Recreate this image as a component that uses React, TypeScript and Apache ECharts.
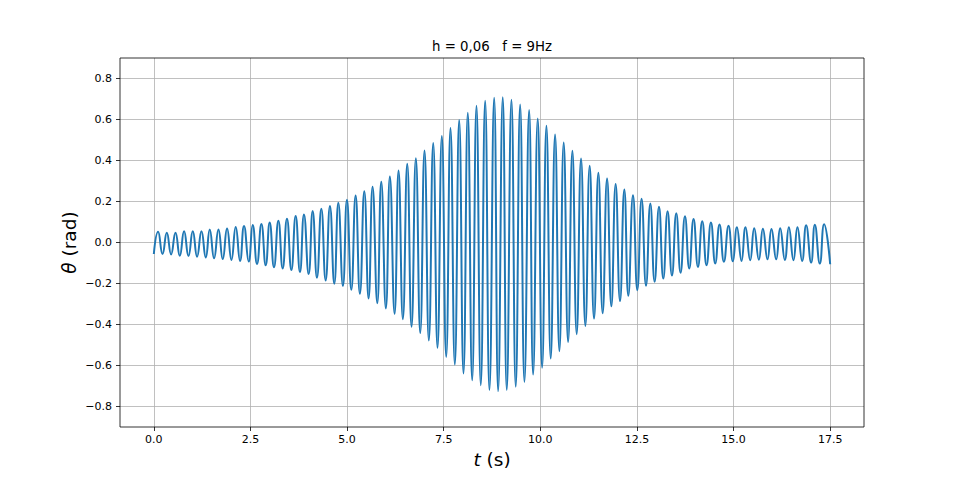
import { useEffect, useRef } from 'react';
import * as echarts from 'echarts';

// Axis limits and tick labels
const xMin = -0.875;
const xMax = 18.375;
const yMin = -0.9;
const yMax = 0.9;
const xTicks = [0, 2.5, 5, 7.5, 10, 12.5, 15, 17.5];
const yTicks = [-0.8, -0.6, -0.4, -0.2, 0, 0.2, 0.4, 0.6, 0.8];

const titleText = 'h = 0,06   f = 9Hz';

// Start / end of the recorded signal
const startTime = 0;
const startValue = -0.056;
const endTime = 17.5;
const endValue = -0.106;

// Maxima of each oscillation (time in s, angle in rad)
const peakTimes = [
  0.111, 0.336, 0.561, 0.783, 1.008, 1.233, 1.447, 1.672, 1.895, 2.119, 2.334,
  2.559, 2.784, 2.998, 3.223, 3.445, 3.67, 3.885, 4.11, 4.334, 4.557, 4.774,
  4.996, 5.221, 5.446, 5.66, 5.885, 6.108, 6.332, 6.557, 6.78, 7.004, 7.229,
  7.452, 7.676, 7.901, 8.124, 8.348, 8.573, 8.806, 9.028, 9.253, 9.478, 9.711,
  9.933, 10.158, 10.382, 10.605, 10.83, 11.054, 11.277, 11.502, 11.727, 11.949, 12.174,
  12.398, 12.621, 12.846, 13.071, 13.293, 13.518, 13.743, 13.965, 14.19, 14.415, 14.637,
  14.87, 15.087, 15.309, 15.534, 15.759, 15.981, 16.206, 16.431, 16.653, 16.878, 17.103, 17.343,
];
const peakValues = [
  0.052, 0.048, 0.048, 0.055, 0.055, 0.055, 0.063, 0.063, 0.068, 0.076, 0.081,
  0.085, 0.09, 0.098, 0.106, 0.116, 0.129, 0.137, 0.154, 0.165, 0.178, 0.194,
  0.208, 0.229, 0.25, 0.272, 0.296, 0.322, 0.351, 0.384, 0.411, 0.449, 0.485,
  0.52, 0.559, 0.597, 0.633, 0.667, 0.691, 0.706, 0.709, 0.696, 0.673, 0.646,
  0.605, 0.569, 0.527, 0.488, 0.447, 0.41, 0.374, 0.34, 0.312, 0.285, 0.259,
  0.231, 0.213, 0.19, 0.174, 0.153, 0.143, 0.128, 0.115, 0.104, 0.098, 0.088,
  0.082, 0.074, 0.074, 0.069, 0.067, 0.066, 0.069, 0.075, 0.074, 0.084, 0.087, 0.089,
];

// Minima of each oscillation
const troughTimes = [
  0.225, 0.447, 0.672, 0.897, 1.119, 1.344, 1.559, 1.783, 2.008, 2.231, 2.455,
  2.67, 2.895, 3.109, 3.334, 3.559, 3.781, 4.006, 4.221, 4.446, 4.67, 4.893,
  5.11, 5.332, 5.557, 5.782, 6.004, 6.229, 6.444, 6.668, 6.893, 7.116, 7.34,
  7.565, 7.788, 8.012, 8.237, 8.46, 8.684, 8.909, 9.132, 9.364, 9.589, 9.814,
  10.047, 10.269, 10.494, 10.719, 10.941, 11.166, 11.39, 11.613, 11.838, 12.062, 12.277,
  12.51, 12.735, 12.957, 13.182, 13.406, 13.629, 13.854, 14.079, 14.301, 14.526, 14.75,
  14.983, 15.206, 15.431, 15.655, 15.878, 16.103, 16.327, 16.55, 16.774, 17.007, 17.232,
];
const troughValues = [
  -0.056, -0.058, -0.065, -0.066, -0.069, -0.073, -0.077, -0.081, -0.085, -0.09, -0.093,
  -0.105, -0.111, -0.121, -0.127, -0.134, -0.144, -0.154, -0.172, -0.185, -0.201, -0.212,
  -0.231, -0.25, -0.273, -0.296, -0.322, -0.348, -0.374, -0.411, -0.442, -0.478, -0.514,
  -0.558, -0.595, -0.639, -0.672, -0.696, -0.72, -0.725, -0.72, -0.704, -0.68, -0.644,
  -0.611, -0.566, -0.53, -0.485, -0.447, -0.407, -0.371, -0.345, -0.311, -0.286, -0.26,
  -0.233, -0.211, -0.192, -0.176, -0.161, -0.148, -0.127, -0.119, -0.111, -0.102, -0.094,
  -0.092, -0.09, -0.087, -0.084, -0.082, -0.082, -0.085, -0.087, -0.09, -0.098, -0.103,
];

const FONT = 'DejaVu Sans';
const LABEL_SIZE = 18.5;

const fmt = (v: number) => {
  if (Math.abs(v) < 1e-9) return '0.0';
  const s = Math.abs(v).toFixed(1);
  return v < 0 ? '\u2212' + s : s;
};

export default function App() {
  const ref = useRef<HTMLDivElement>(null);

  useEffect(() => {
    if (!ref.current) return;
    const chart = echarts.init(ref.current, null, { renderer: 'svg' });

    const data: number[][] = [[startTime, startValue]];
    for (let i = 0; i < peakTimes.length; i++) {
      data.push([peakTimes[i], peakValues[i]]);
      if (i < troughTimes.length) data.push([troughTimes[i], troughValues[i]]);
    }
    data.push([endTime, endValue]);

    const gridLeft = 120;
    const gridTop = 58;
    const gridW = 744;
    const gridH = 369;

    chart.setOption({
      animation: false,
      textStyle: { fontFamily: FONT },
      grid: { left: gridLeft, top: gridTop, width: gridW, height: gridH, show: false },
      xAxis: {
        type: 'value',
        min: xMin,
        max: xMax,
        minInterval: 2.5,
        maxInterval: 2.5,
        axisLine: { show: false, onZero: false },
        axisTick: {
          show: true,
          inside: false,
          length: 4,
          lineStyle: { color: '#000', width: 0.8 },
          customValues: xTicks,
        },
        axisLabel: {
          customValues: xTicks,
          formatter: fmt,
          color: '#000',
          fontSize: 11,
          fontFamily: FONT,
          margin: 7,
        },
        splitLine: { show: true, lineStyle: { color: '#b0b0b0', width: 0.8 } },
      },
      yAxis: {
        type: 'value',
        min: yMin,
        max: yMax,
        minInterval: 0.2,
        maxInterval: 0.2,
        axisLine: { show: false, onZero: false },
        axisTick: {
          show: true,
          inside: false,
          length: 4,
          lineStyle: { color: '#000', width: 0.8 },
          customValues: yTicks,
        },
        axisLabel: {
          customValues: yTicks,
          formatter: fmt,
          color: '#000',
          fontSize: 11,
          fontFamily: FONT,
          margin: 8,
        },
        splitLine: { show: true, lineStyle: { color: '#b0b0b0', width: 0.8 } },
      },
      series: [
        {
          type: 'line',
          data,
          showSymbol: false,
          smooth: 0.5,
          lineStyle: { color: '#1f77b4', width: 2 },
          z: 5,
        },
      ],
      graphic: [
        {
          type: 'rect',
          silent: true,
          z: 100,
          shape: { x: gridLeft, y: gridTop, width: gridW, height: gridH },
          style: { fill: 'none', stroke: '#000', lineWidth: 0.8 },
        },
        {
          type: 'text',
          silent: true,
          x: gridLeft + gridW / 2,
          y: 46.5,
          style: {
            text: titleText,
            fontSize: 13.3,
            fontFamily: FONT,
            fill: '#000',
            align: 'center',
            verticalAlign: 'middle',
          },
        },
        {
          type: 'text',
          silent: true,
          x: gridLeft + gridW / 2,
          y: 459,
          style: {
            text: '{i|t} (s)',
            fontSize: LABEL_SIZE,
            fontFamily: FONT,
            fill: '#000',
            align: 'center',
            verticalAlign: 'middle',
            rich: { i: { fontStyle: 'italic', fontSize: LABEL_SIZE, fontFamily: FONT, fill: '#000' } },
          },
        },
        {
          type: 'text',
          silent: true,
          x: 69,
          y: gridTop + gridH / 2,
          rotation: Math.PI / 2,
          style: {
            text: '{i|\u03b8} (rad)',
            fontSize: LABEL_SIZE,
            fontFamily: FONT,
            fill: '#000',
            align: 'center',
            verticalAlign: 'middle',
            rich: { i: { fontStyle: 'italic', fontSize: LABEL_SIZE, fontFamily: FONT, fill: '#000' } },
          },
        },
      ],
    });

    return () => chart.dispose();
  }, []);

  return (
    <div
      ref={ref}
      style={{ position: 'absolute', left: 0, top: 0, width: 960, height: 480 }}
    />
  );
}
